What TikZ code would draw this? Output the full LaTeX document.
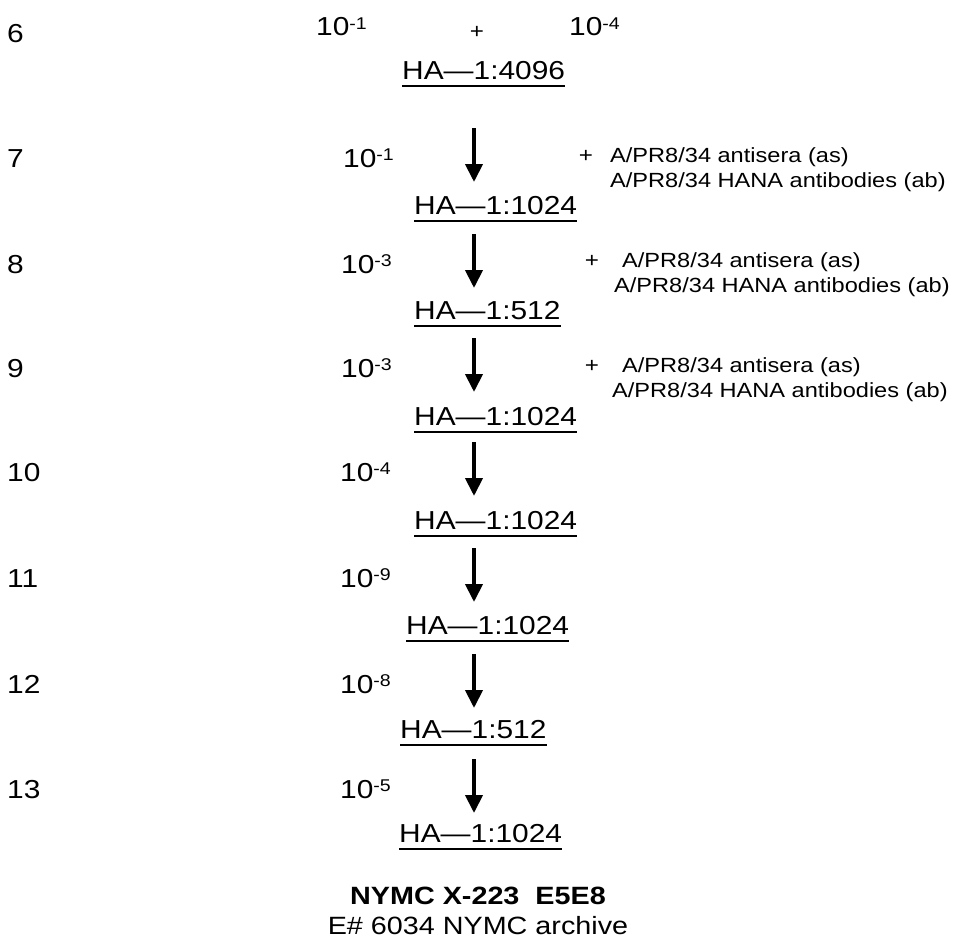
\documentclass[tikz,border=0pt]{standalone}
\usepackage{fontspec}
\setmainfont{Liberation Sans}[FakeStretch=1.15]
\usetikzlibrary{arrows.meta}
\newcommand{\tenpow}[1]{10\raisebox{6.5pt}{\fontsize{17}{17}\selectfont#1}}
\tikzset{
  rownum/.style={anchor=base west, inner sep=0pt, font=\fontsize{26}{30}\selectfont},
  dil/.style={anchor=base west, inner sep=0pt, font=\fontsize{26}{30}\selectfont},
  titer/.style={anchor=base west, inner sep=0pt, font=\fontsize{26}{30}\selectfont},
  serum/.style={anchor=base west, inner sep=0pt, font=\fontsize{20.5}{24}\selectfont},
  plus/.style={anchor=base, inner sep=0pt, font=\fontsize{21}{24}\selectfont},
  foot/.style={anchor=base, inner sep=0pt, font=\fontsize{25}{30}\selectfont},
  uline/.style={line width=2pt},
  arr/.style={-{Triangle[width=17pt, length=18pt]}, line width=4pt},
}

\begin{document}
\begin{tikzpicture}[x=1pt, y=-1pt]
\useasboundingbox (0,0) rectangle (955,942);
\coordinate (ax) at (474,0);
% ---- passage 6 ----
\node[rownum] (n6) at (7,42) {6};
\node[dil] (d6a) at (316,36) {\tenpow{-1}};
\node[plus] (p6) at (477,39) {+};
\node[dil] (d6b) at (569,36) {\tenpow{-4}};
\node[titer] (t6) at (402,79) {HA—1:4096};
% ---- passages 7 to 13 ----
\node[rownum] (n7) at (7,167) {7};
\node[dil] (d7) at (343,167) {\tenpow{-1}};
\node[titer] (t7) at (414,214) {HA—1:1024};
\node[rownum] (n8) at (7,273) {8};
\node[dil] (d8) at (341,273) {\tenpow{-3}};
\node[titer] (t8) at (414,319) {HA—1:512};
\node[rownum] (n9) at (7,377) {9};
\node[dil] (d9) at (341,377) {\tenpow{-3}};
\node[titer] (t9) at (414,425) {HA—1:1024};
\node[rownum] (n10) at (7,481) {10};
\node[dil] (d10) at (340,481) {\tenpow{-4}};
\node[titer] (t10) at (414,529) {HA—1:1024};
\node[rownum] (n11) at (7,587) {11};
\node[dil] (d11) at (340,587) {\tenpow{-9}};
\node[titer] (t11) at (406,634) {HA—1:1024};
\node[rownum] (n12) at (7,693) {12};
\node[dil] (d12) at (340,693) {\tenpow{-8}};
\node[titer] (t12) at (400,738) {HA—1:512};
\node[rownum] (n13) at (7,798) {13};
\node[dil] (d13) at (340,798) {\tenpow{-5}};
\node[titer] (t13) at (399,842) {HA—1:1024};
% ---- added sera ----
\node[plus] (p7) at (586,162) {+};
\node[serum] (s7a) at (610,162) {A/PR8/34 antisera (as)};
\node[serum] (s7b) at (610,187) {A/PR8/34 HANA antibodies (ab)};
\node[plus] (p8) at (592,267) {+};
\node[serum] (s8a) at (622,267) {A/PR8/34 antisera (as)};
\node[serum] (s8b) at (614,292) {A/PR8/34 HANA antibodies (ab)};
\node[plus] (p9) at (592,372) {+};
\node[serum] (s9a) at (622,372) {A/PR8/34 antisera (as)};
\node[serum] (s9b) at (612,397) {A/PR8/34 HANA antibodies (ab)};
% ---- arrows and underlines ----
\foreach \r in {7,...,13}
  \draw[arr] ([yshift=39pt]ax |- d\r.base) -- ([yshift=-15pt]ax |- d\r.base);
\foreach \r in {6,...,13}
  \draw[uline] ([yshift=-7pt]t\r.base west) -- ([yshift=-7pt]t\r.base east);
% ---- caption ----
\node[foot, font=\fontsize{25}{30}\selectfont\bfseries] (name) at (478,904) {NYMC X-223\ \ E5E8};
\node[foot] (arch) at (478,934) {E\# 6034 NYMC archive};
\end{tikzpicture}
\end{document}
